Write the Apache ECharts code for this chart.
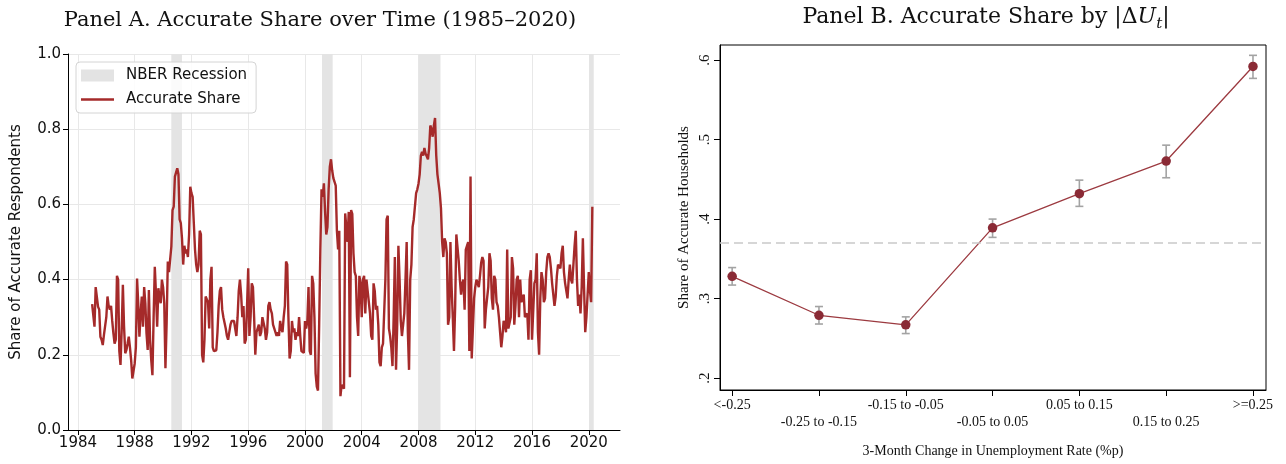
<!doctype html>
<html>
<head>
    <meta charset="utf-8">
    <title>Accurate Share</title>
    <style>
        html, body { margin: 0; padding: 0; background: #fff; }
        #chart { width: 1286px; height: 464px; }
    </style>
</head>
<body>
    <div id="chart"></div>
    <script src="https://cdn.jsdelivr.net/npm/echarts@6/dist/echarts.min.js"></script>
    <script>
        // Panel A: monthly accurate share, Jan 1985 - Apr 2020
        var startYear = 1985;
        var accurateShare = [
            0.335, 0.33, 0.275, 0.38, 0.377, 0.328, 0.32, 0.248, 0.24, 0.226, 0.253, 0.257,   // 1985
            0.30, 0.355, 0.33, 0.32, 0.33, 0.29, 0.257, 0.23, 0.24, 0.41, 0.40, 0.21,        // 1986
            0.173, 0.266, 0.386, 0.275, 0.204, 0.213, 0.23, 0.248, 0.22, 0.186, 0.137, 0.137, // 1987
            0.177, 0.22, 0.403, 0.337, 0.248, 0.31, 0.355, 0.275, 0.38, 0.337, 0.257, 0.213,  // 1988
            0.372, 0.24, 0.186, 0.146, 0.30, 0.434, 0.363, 0.275, 0.377, 0.355, 0.337, 0.40,  // 1989
            0.38, 0.337, 0.164, 0.284, 0.448, 0.42, 0.425, 0.488, 0.585, 0.594, 0.674, 0.678, // 1990
            0.696, 0.68, 0.56, 0.55, 0.51, 0.44, 0.49, 0.47, 0.48, 0.46, 0.52, 0.647,        // 1991
            0.63, 0.62, 0.55, 0.48, 0.44, 0.42, 0.44, 0.53, 0.52, 0.20, 0.18, 0.24,          // 1992
            0.355, 0.36, 0.34, 0.27, 0.40, 0.434, 0.22, 0.21, 0.21, 0.212, 0.26, 0.33,       // 1993
            0.37, 0.38, 0.32, 0.30, 0.30, 0.27, 0.25, 0.24, 0.24, 0.28, 0.29, 0.29,          // 1994
            0.29, 0.27, 0.25, 0.30, 0.37, 0.40, 0.36, 0.30, 0.33, 0.23, 0.24, 0.33,          // 1995
            0.43, 0.25, 0.30, 0.39, 0.38, 0.30, 0.20, 0.26, 0.27, 0.28, 0.25, 0.26,          // 1996
            0.30, 0.30, 0.27, 0.24, 0.26, 0.33, 0.34, 0.32, 0.31, 0.28, 0.27, 0.27,          // 1997
            0.25, 0.26, 0.25, 0.29, 0.27, 0.26, 0.30, 0.33, 0.448, 0.44, 0.30, 0.19,         // 1998
            0.21, 0.29, 0.26, 0.27, 0.24, 0.26, 0.25, 0.30, 0.25, 0.21, 0.205, 0.205,        // 1999
            0.29, 0.27, 0.29, 0.38, 0.21, 0.20, 0.41, 0.39, 0.30, 0.15, 0.115, 0.105,        // 2000
            0.28, 0.48, 0.64, 0.62, 0.656, 0.58, 0.52, 0.54, 0.64, 0.70, 0.72, 0.69,         // 2001
            0.67, 0.67, 0.65, 0.53, 0.48, 0.53, 0.09, 0.12, 0.12, 0.11, 0.576, 0.58,         // 2002
            0.50, 0.58, 0.14, 0.585, 0.575, 0.47, 0.42, 0.41, 0.30, 0.25, 0.41, 0.39,        // 2003
            0.30, 0.40, 0.41, 0.31, 0.40, 0.37, 0.37, 0.31, 0.25, 0.24, 0.39, 0.37,          // 2004
            0.32, 0.33, 0.28, 0.18, 0.17, 0.22, 0.23, 0.23, 0.40, 0.56, 0.57, 0.27,          // 2005
            0.25, 0.22, 0.17, 0.30, 0.46, 0.16, 0.28, 0.49, 0.40, 0.29, 0.25, 0.25,          // 2006
            0.31, 0.40, 0.50, 0.26, 0.16, 0.40, 0.44, 0.54, 0.56, 0.565, 0.63, 0.64,         // 2007
            0.655, 0.68, 0.73, 0.74, 0.73, 0.75, 0.735, 0.73, 0.72, 0.75, 0.81, 0.80,        // 2008
            0.78, 0.81, 0.83, 0.73, 0.68, 0.655, 0.63, 0.59, 0.50, 0.46, 0.51, 0.50,         // 2009
            0.47, 0.28, 0.30, 0.50, 0.38, 0.30, 0.21, 0.33, 0.52, 0.52, 0.45, 0.40,          // 2010
            0.36, 0.39, 0.40, 0.32, 0.48, 0.49, 0.50, 0.21, 0.674, 0.19, 0.27, 0.35,         // 2011
            0.38, 0.40, 0.39, 0.38, 0.41, 0.445, 0.46, 0.45, 0.27, 0.32, 0.32, 0.38,         // 2012
            0.47, 0.45, 0.35, 0.32, 0.41, 0.40, 0.34, 0.33, 0.30, 0.26, 0.22, 0.25,          // 2013
            0.29, 0.28, 0.26, 0.48, 0.27, 0.27, 0.30, 0.46, 0.43, 0.28, 0.33, 0.40,          // 2014
            0.41, 0.30, 0.40, 0.34, 0.35, 0.36, 0.30, 0.30, 0.31, 0.24, 0.40, 0.425,         // 2015
            0.24, 0.24, 0.39, 0.40, 0.47, 0.26, 0.20, 0.35, 0.42, 0.40, 0.34, 0.35,          // 2016
            0.42, 0.46, 0.47, 0.46, 0.43, 0.39, 0.36, 0.33, 0.355, 0.41, 0.44, 0.44,         // 2017
            0.43, 0.47, 0.49, 0.42, 0.39, 0.39, 0.35, 0.40, 0.44, 0.40, 0.39, 0.44,          // 2018
            0.49, 0.53, 0.40, 0.33, 0.36, 0.31, 0.38, 0.51, 0.38, 0.26, 0.30, 0.36,          // 2019
            0.42, 0.37, 0.34, 0.594                                                          // 2020
        ];
        var recessions = [[1990.58, 1991.33], [2001.2, 2001.95], [2008.0, 2009.55], [2020.02, 2020.35]];
        var yearTicks = [1984, 1988, 1992, 1996, 2000, 2004, 2008, 2012, 2016, 2020];

        // Panel B: share of accurate households by 3-month change in unemployment
        var buckets = ['<-0.25', '-0.25 to -0.15', '-0.15 to -0.05', '-0.05 to 0.05', '0.05 to 0.15', '0.15 to 0.25', '>=0.25'];
        var bucketShare = [0.328, 0.279, 0.267, 0.389, 0.432, 0.473, 0.592];
        var bucketLow = [0.317, 0.268, 0.256, 0.377, 0.416, 0.452, 0.577];
        var bucketHigh = [0.339, 0.290, 0.277, 0.400, 0.449, 0.493, 0.606];
        var overallShare = 0.372;
        var bTicks = [0.2, 0.3, 0.4, 0.5, 0.6];

        var sans = 'DejaVu Sans';
        var serif = 'Liberation Serif';
        var titleFont = 'DejaVu Serif';
        var red = '#a52a2a';

        var lineData = accurateShare.map(function (v, i) {
            return [startYear + i / 12, v];
        });
        var recessionAreas = recessions.map(function (r) {
            return [{ xAxis: r[0] }, { xAxis: r[1] }];
        });
        var bucketIdx = buckets.map(function (b, i) { return i; });
        var pointData = bucketShare.map(function (v, i) { return [i, v]; });
        var errData = bucketShare.map(function (v, i) { return [i, bucketLow[i], bucketHigh[i]]; });

        var tStyle = { fontFamily: titleFont, fontWeight: 'normal', fontSize: 22, color: '#111', lineHeight: 30, verticalAlign: 'middle' };

        var chart = echarts.init(document.getElementById('chart'));
        var option = {
            animation: false,
            backgroundColor: '#fff',
            title: [
                {
                    text: 'Panel A. Accurate Share over Time (1985\u20132020)',
                    left: 315, top: 5, textAlign: 'center',
                    textStyle: { fontFamily: titleFont, fontWeight: 'normal', fontSize: 21, color: '#111' }
                },
                {
                    text: '{n|Panel B. Accurate Share by |\u0394}{i|U}{s|t}{n||}',
                    left: 981, top: -3, textAlign: 'center',
                    textStyle: {
                        fontWeight: 'normal',
                        rich: {
                            n: tStyle,
                            i: Object.assign({}, tStyle, { fontStyle: 'italic' }),
                            s: { fontFamily: titleFont, fontWeight: 'normal', fontSize: 15, color: '#111', fontStyle: 'italic', verticalAlign: 'bottom' }
                        }
                    }
                }
            ],
            legend: {
                left: 76, top: 62,
                orient: 'vertical',
                itemWidth: 33, itemHeight: 12, itemGap: 9,
                padding: [6, 9, 6, 5],
                backgroundColor: 'rgba(255,255,255,0.85)',
                borderColor: '#d4d4d4', borderWidth: 1, borderRadius: 4,
                textStyle: { fontFamily: sans, fontSize: 15, color: '#111', padding: [0, 0, 0, 7] },
                data: [
                    { name: 'NBER Recession', icon: 'rect' },
                    { name: 'Accurate Share', icon: 'path://M0,0 L33,0 L33,2.4 L0,2.4 Z' }
                ]
            },
            grid: [
                { left: 68, top: 54, width: 552, height: 376, containLabel: false },
                { left: 720, top: 45, width: 546, height: 345, show: true, borderColor: '#000', borderWidth: 1, backgroundColor: 'transparent' }
            ],
            xAxis: [
                {
                    gridIndex: 0, type: 'value', min: 1983.3, max: 2022.2,
                    axisLine: { show: true, lineStyle: { color: '#000', width: 1 } },
                    axisTick: { show: true, length: 5, customValues: yearTicks, lineStyle: { color: '#000' } },
                    axisLabel: {
                        customValues: yearTicks, fontFamily: sans, fontSize: 15, color: '#111', margin: 6,
                        formatter: function (v) { return String(Math.round(v)); }
                    },
                    splitLine: { show: true, lineStyle: { color: '#e8e8e8', width: 1 } }
                },
                {
                    gridIndex: 1, type: 'value', min: -0.14, max: 6.15,
                    axisLine: { show: true, onZero: false, lineStyle: { color: '#000', width: 1 } },
                    axisTick: { show: true, length: 6, customValues: bucketIdx, lineStyle: { color: '#000' } },
                    axisLabel: {
                        customValues: bucketIdx, fontFamily: serif, fontSize: 14, color: '#111', margin: 7, lineHeight: 17,
                        formatter: function (v) {
                            var i = Math.round(v);
                            return i % 2 === 1 ? '\n' + buckets[i] : buckets[i];
                        }
                    },
                    splitLine: { show: false },
                    name: '3-Month Change in Unemployment Rate (%p)',
                    nameLocation: 'middle', nameGap: 54,
                    nameTextStyle: { fontFamily: serif, fontSize: 14, color: '#111' }
                }
            ],
            yAxis: [
                {
                    gridIndex: 0, type: 'value', min: 0, max: 1, interval: 0.2,
                    axisLine: { show: true, lineStyle: { color: '#000', width: 1 } },
                    axisTick: { show: true, length: 5, lineStyle: { color: '#000' } },
                    axisLabel: {
                        fontFamily: sans, fontSize: 15, color: '#111', margin: 7,
                        formatter: function (v) { return v.toFixed(1); }
                    },
                    splitLine: { show: true, lineStyle: { color: '#e8e8e8', width: 1 } },
                    name: 'Share of Accurate Respondents',
                    nameLocation: 'middle', nameGap: 44,
                    nameTextStyle: { fontFamily: sans, fontSize: 15, color: '#111' }
                },
                {
                    gridIndex: 1, type: 'value', min: 0.185, max: 0.619,
                    axisLine: { show: true, onZero: false, lineStyle: { color: '#000', width: 1 } },
                    axisTick: { show: true, length: 6, customValues: bTicks, lineStyle: { color: '#000' } },
                    axisLabel: {
                        customValues: bTicks, rotate: 90, fontFamily: serif, fontSize: 15, color: '#111', margin: 7,
                        formatter: function (v) { return '.' + Math.round(v * 10); }
                    },
                    splitLine: { show: false },
                    name: 'Share of Accurate Households',
                    nameLocation: 'middle', nameGap: 28,
                    nameTextStyle: { fontFamily: serif, fontSize: 15, color: '#111' }
                }
            ],
            series: [
                {
                    name: 'NBER Recession', type: 'line', xAxisIndex: 0, yAxisIndex: 0,
                    data: [], symbol: 'none',
                    itemStyle: { color: '#e3e3e3' },
                    lineStyle: { color: '#e3e3e3' },
                    markArea: {
                        silent: true,
                        itemStyle: { color: '#e4e4e4' },
                        data: recessionAreas
                    },
                    z: 1
                },
                {
                    name: 'Accurate Share', type: 'line', xAxisIndex: 0, yAxisIndex: 0,
                    data: lineData, symbol: 'none',
                    itemStyle: { color: red },
                    lineStyle: { color: red, width: 2.4 },
                    z: 3
                },
                {
                    name: 'ci', type: 'custom', xAxisIndex: 1, yAxisIndex: 1,
                    data: errData,
                    encode: { x: 0, y: [1, 2] },
                    renderItem: function (params, api) {
                        var x = api.value(0);
                        var lo = api.coord([x, api.value(1)]);
                        var hi = api.coord([x, api.value(2)]);
                        var w = 4;
                        var st = { stroke: '#a3a3a3', lineWidth: 1.6 };
                        return {
                            type: 'group',
                            children: [
                                { type: 'line', shape: { x1: lo[0], y1: lo[1], x2: hi[0], y2: hi[1] }, style: st },
                                { type: 'line', shape: { x1: lo[0] - w, y1: lo[1], x2: lo[0] + w, y2: lo[1] }, style: st },
                                { type: 'line', shape: { x1: hi[0] - w, y1: hi[1], x2: hi[0] + w, y2: hi[1] }, style: st }
                            ]
                        };
                    },
                    z: 2
                },
                {
                    name: 'byBucket', type: 'line', xAxisIndex: 1, yAxisIndex: 1,
                    data: pointData,
                    symbol: 'circle', symbolSize: 9.5,
                    itemStyle: { color: '#8a2a35' },
                    lineStyle: { color: '#9c3a40', width: 1.3 },
                    markLine: {
                        silent: true, symbol: 'none', label: { show: false },
                        lineStyle: { color: '#c9c9c9', type: [9, 5], width: 1.6 },
                        data: [{ yAxis: overallShare }]
                    },
                    z: 4
                }
            ]
        };
        chart.setOption(option);
    </script>
</body>
</html>
